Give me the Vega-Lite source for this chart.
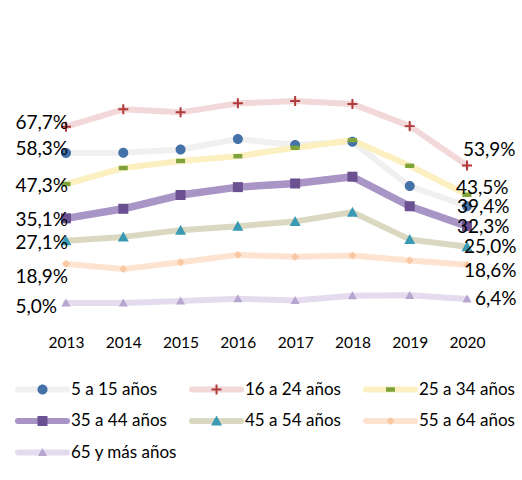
{
  "$schema": "https://vega.github.io/schema/vega-lite/v6.json",
  "width": 401,
  "height": 253,
  "autosize": {"type": "none"},
  "padding": {"left": 66, "top": 64, "right": 55, "bottom": 163},
  "config": {
    "view": {"stroke": null},
    "locale": {"number": {"decimal": ",", "thousands": ".", "grouping": [3], "currency": ["", " €"]}},
    "text": {"font": "Lato", "fontSize": 19, "color": "#000000"}
  },
  "data": {
    "values": [
      {"year": 2013, "grupo": "5 a 15 años", "valor": 0.583},
      {"year": 2014, "grupo": "5 a 15 años", "valor": 0.584},
      {"year": 2015, "grupo": "5 a 15 años", "valor": 0.596},
      {"year": 2016, "grupo": "5 a 15 años", "valor": 0.633},
      {"year": 2017, "grupo": "5 a 15 años", "valor": 0.612},
      {"year": 2018, "grupo": "5 a 15 años", "valor": 0.623},
      {"year": 2019, "grupo": "5 a 15 años", "valor": 0.466},
      {"year": 2020, "grupo": "5 a 15 años", "valor": 0.394},
      {"year": 2013, "grupo": "16 a 24 años", "valor": 0.677},
      {"year": 2014, "grupo": "16 a 24 años", "valor": 0.739},
      {"year": 2015, "grupo": "16 a 24 años", "valor": 0.728},
      {"year": 2016, "grupo": "16 a 24 años", "valor": 0.760},
      {"year": 2017, "grupo": "16 a 24 años", "valor": 0.768},
      {"year": 2018, "grupo": "16 a 24 años", "valor": 0.758},
      {"year": 2019, "grupo": "16 a 24 años", "valor": 0.679},
      {"year": 2020, "grupo": "16 a 24 años", "valor": 0.539},
      {"year": 2013, "grupo": "25 a 34 años", "valor": 0.473},
      {"year": 2014, "grupo": "25 a 34 años", "valor": 0.530},
      {"year": 2015, "grupo": "25 a 34 años", "valor": 0.555},
      {"year": 2016, "grupo": "25 a 34 años", "valor": 0.572},
      {"year": 2017, "grupo": "25 a 34 años", "valor": 0.602},
      {"year": 2018, "grupo": "25 a 34 años", "valor": 0.629},
      {"year": 2019, "grupo": "25 a 34 años", "valor": 0.538},
      {"year": 2020, "grupo": "25 a 34 años", "valor": 0.435},
      {"year": 2013, "grupo": "35 a 44 años", "valor": 0.351},
      {"year": 2014, "grupo": "35 a 44 años", "valor": 0.385},
      {"year": 2015, "grupo": "35 a 44 años", "valor": 0.434},
      {"year": 2016, "grupo": "35 a 44 años", "valor": 0.462},
      {"year": 2017, "grupo": "35 a 44 años", "valor": 0.475},
      {"year": 2018, "grupo": "35 a 44 años", "valor": 0.499},
      {"year": 2019, "grupo": "35 a 44 años", "valor": 0.394},
      {"year": 2020, "grupo": "35 a 44 años", "valor": 0.323},
      {"year": 2013, "grupo": "45 a 54 años", "valor": 0.271},
      {"year": 2014, "grupo": "45 a 54 años", "valor": 0.285},
      {"year": 2015, "grupo": "45 a 54 años", "valor": 0.309},
      {"year": 2016, "grupo": "45 a 54 años", "valor": 0.323},
      {"year": 2017, "grupo": "45 a 54 años", "valor": 0.340},
      {"year": 2018, "grupo": "45 a 54 años", "valor": 0.373},
      {"year": 2019, "grupo": "45 a 54 años", "valor": 0.276},
      {"year": 2020, "grupo": "45 a 54 años", "valor": 0.250},
      {"year": 2013, "grupo": "55 a 64 años", "valor": 0.189},
      {"year": 2014, "grupo": "55 a 64 años", "valor": 0.171},
      {"year": 2015, "grupo": "55 a 64 años", "valor": 0.195},
      {"year": 2016, "grupo": "55 a 64 años", "valor": 0.221},
      {"year": 2017, "grupo": "55 a 64 años", "valor": 0.214},
      {"year": 2018, "grupo": "55 a 64 años", "valor": 0.219},
      {"year": 2019, "grupo": "55 a 64 años", "valor": 0.201},
      {"year": 2020, "grupo": "55 a 64 años", "valor": 0.186},
      {"year": 2013, "grupo": "65 y más años", "valor": 0.050},
      {"year": 2014, "grupo": "65 y más años", "valor": 0.050},
      {"year": 2015, "grupo": "65 y más años", "valor": 0.057},
      {"year": 2016, "grupo": "65 y más años", "valor": 0.065},
      {"year": 2017, "grupo": "65 y más años", "valor": 0.059},
      {"year": 2018, "grupo": "65 y más años", "valor": 0.076},
      {"year": 2019, "grupo": "65 y más años", "valor": 0.077},
      {"year": 2020, "grupo": "65 y más años", "valor": 0.064}
    ]
  },
  "encoding": {
    "x": {
      "field": "year", "type": "ordinal",
      "scale": {"type": "point", "padding": 0},
      "axis": {"title": null, "domain": false, "ticks": false, "grid": false, "labelAngle": 0,
               "labelFont": "Lato", "labelFontSize": 15.5, "labelColor": "#000000",
               "labelBaseline": "middle", "labelPadding": 25}
    },
    "y": {
      "field": "valor", "type": "quantitative",
      "scale": {"domain": [0, 0.9], "nice": false, "zero": true},
      "axis": null
    }
  },
  "layer": [
    {
      "mark": {"type": "line", "strokeCap": "round", "strokeJoin": "round"},
      "encoding": {
        "strokeWidth": {"condition": {"test": "datum.grupo == '35 a 44 años'", "value": 7.5}, "value": 6},
        "stroke": {
          "field": "grupo", "type": "nominal",
          "sort": ["5 a 15 años", "35 a 44 años", "55 a 64 años", "16 a 24 años", "45 a 54 años", "65 y más años", "25 a 34 años"],
          "scale": {"range": ["#f0f0f0", "#a994c6", "#fde3d0", "#f2d8d8", "#dbd8c2", "#e4dcee", "#fcefc0"]},
          "legend": {
            "orient": "none", "legendX": -51, "legendY": 317.5, "columns": 3, "title": null,
            "symbolType": "stroke", "symbolSize": 2401, "symbolStrokeWidth": 6, "symbolOpacity": 1,
            "labelFont": "Lato", "labelFontSize": 17, "labelColor": "#000000", "labelOffset": 1,
            "clipHeight": 16, "rowPadding": 14.5, "columnPadding": 11, "gridAlign": "all", "padding": 0,
            "encode": {"symbols": {"update": {"strokeCap": {"value": "round"}}}}
          }
        }
      }
    },
    {
      "mark": {"type": "point", "filled": true, "size": 3025, "opacity": 1, "strokeWidth": 0},
      "encoding": {
        "fill": {
          "field": "grupo", "type": "nominal",
          "scale": {
            "domain": ["5 a 15 años", "35 a 44 años", "55 a 64 años", "16 a 24 años", "45 a 54 años", "65 y más años", "25 a 34 años"],
            "range": ["#4472a8", "#6b5191", "#f9c8a2", "#b03a3a", "#3a9ab4", "#b6a5cf", "#7fa33b"]
          },
          "legend": {
            "orient": "none", "legendX": -51, "legendY": 317.5, "columns": 3, "title": null,
            "symbolSize": 3025, "symbolStrokeWidth": 0, "symbolStrokeColor": "transparent", "symbolOpacity": 1,
            "labelFont": "Lato", "labelFontSize": 17, "labelColor": "transparent", "labelOffset": 1,
            "clipHeight": 16, "rowPadding": 14.5, "columnPadding": 11, "gridAlign": "all", "padding": 0
          }
        },
        "shape": {
          "field": "grupo", "type": "nominal",
          "scale": {
            "domain": ["5 a 15 años", "35 a 44 años", "55 a 64 años", "16 a 24 años", "45 a 54 años", "65 y más años", "25 a 34 años"],
            "range": [
              "M-0.182,0A0.182,0.182,0,1,1,0.182,0A0.182,0.182,0,1,1,-0.182,0Z",
              "M-0.182,-0.182L0.182,-0.182L0.182,0.182L-0.182,0.182Z",
              "M0,-0.145L0.145,0L0,0.145L-0.145,0Z",
              "M-0.182,-0.036L-0.036,-0.036L-0.036,-0.182L0.036,-0.182L0.036,-0.036L0.182,-0.036L0.182,0.036L0.036,0.036L0.036,0.182L-0.036,0.182L-0.036,0.036L-0.182,0.036Z",
              "M0,-0.2L0.2,0.164L-0.2,0.164Z",
              "M0,-0.16L0.164,0.13L-0.164,0.13Z",
              "M-0.164,-0.08L0.164,-0.08L0.164,0.08L-0.164,0.08Z"
            ]
          },
          "legend": {
            "orient": "none", "legendX": -51, "legendY": 317.5, "columns": 3, "title": null,
            "symbolSize": 3025, "symbolStrokeWidth": 0, "symbolStrokeColor": "transparent", "symbolOpacity": 1,
            "labelFont": "Lato", "labelFontSize": 17, "labelColor": "transparent", "labelOffset": 1,
            "clipHeight": 16, "rowPadding": 14.5, "columnPadding": 11, "gridAlign": "all", "padding": 0
          }
        }
      }
    },
    {
      "transform": [{"filter": "datum.year == 2013 && (datum.grupo == '5 a 15 años' || datum.grupo == '16 a 24 años')"}],
      "mark": {"type": "text", "align": "right", "baseline": "middle", "dx": 2, "dy": -4},
      "encoding": {"text": {"field": "valor", "type": "quantitative", "format": ".1%"}}
    },
    {
      "transform": [{"filter": "datum.year == 2013 && (datum.grupo == '25 a 34 años' || datum.grupo == '35 a 44 años' || datum.grupo == '45 a 54 años')"}],
      "mark": {"type": "text", "align": "right", "baseline": "middle", "dx": 2, "dy": 2},
      "encoding": {"text": {"field": "valor", "type": "quantitative", "format": ".1%"}}
    },
    {
      "transform": [{"filter": "datum.year == 2013 && datum.grupo == '55 a 64 años'"}],
      "mark": {"type": "text", "align": "right", "baseline": "middle", "dx": 2, "dy": 13},
      "encoding": {"text": {"field": "valor", "type": "quantitative", "format": ".1%"}}
    },
    {
      "transform": [{"filter": "datum.year == 2013 && datum.grupo == '65 y más años'"}],
      "mark": {"type": "text", "align": "right", "baseline": "middle", "dx": -9, "dy": 4},
      "encoding": {"text": {"field": "valor", "type": "quantitative", "format": ".1%"}}
    },
    {
      "transform": [{"filter": "datum.year == 2020 && datum.grupo == '16 a 24 años'"}],
      "mark": {"type": "text", "align": "left", "baseline": "middle", "dx": -4, "dy": -15},
      "encoding": {"text": {"field": "valor", "type": "quantitative", "format": ".1%"}}
    },
    {
      "transform": [{"filter": "datum.year == 2020 && datum.grupo == '25 a 34 años'"}],
      "mark": {"type": "text", "align": "left", "baseline": "middle", "dx": -11, "dy": -7},
      "encoding": {"text": {"field": "valor", "type": "quantitative", "format": ".1%"}}
    },
    {
      "transform": [{"filter": "datum.year == 2020 && (datum.grupo == '5 a 15 años' || datum.grupo == '35 a 44 años')"}],
      "mark": {"type": "text", "align": "left", "baseline": "middle", "dx": -10, "dy": 1},
      "encoding": {"text": {"field": "valor", "type": "quantitative", "format": ".1%"}}
    },
    {
      "transform": [{"filter": "datum.year == 2020 && datum.grupo == '45 a 54 años'"}],
      "mark": {"type": "text", "align": "left", "baseline": "middle", "dx": -3, "dy": 0},
      "encoding": {"text": {"field": "valor", "type": "quantitative", "format": ".1%"}}
    },
    {
      "transform": [{"filter": "datum.year == 2020 && datum.grupo == '55 a 64 años'"}],
      "mark": {"type": "text", "align": "left", "baseline": "middle", "dx": -3, "dy": 6},
      "encoding": {"text": {"field": "valor", "type": "quantitative", "format": ".1%"}}
    },
    {
      "transform": [{"filter": "datum.year == 2020 && datum.grupo == '65 y más años'"}],
      "mark": {"type": "text", "align": "left", "baseline": "middle", "dx": 8, "dy": 0},
      "encoding": {"text": {"field": "valor", "type": "quantitative", "format": ".1%"}}
    }
  ]
}
